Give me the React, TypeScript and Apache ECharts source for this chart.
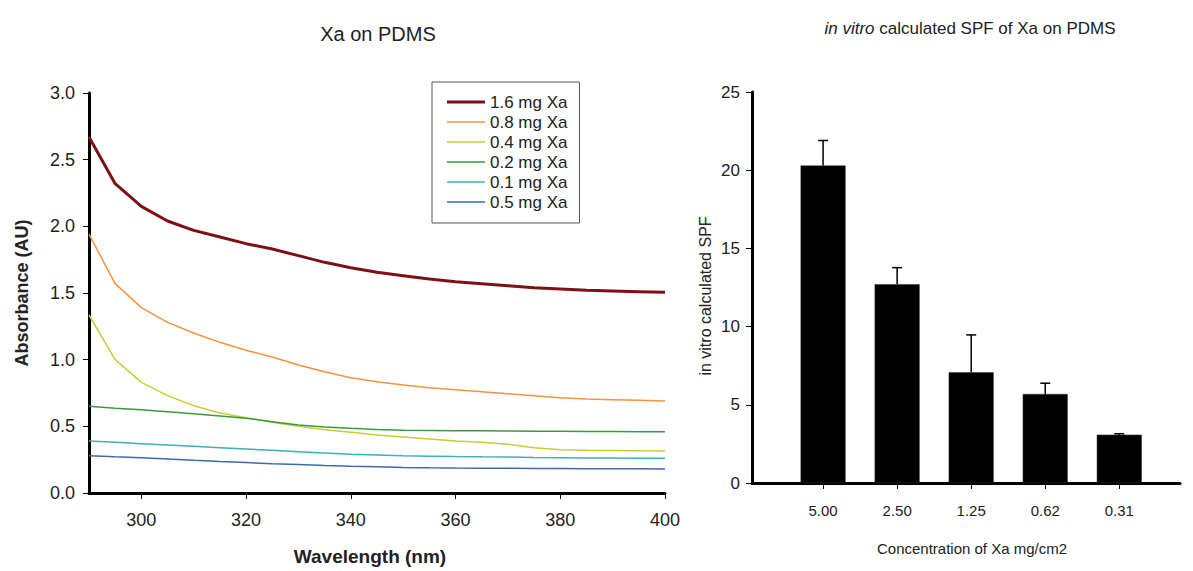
import React, { useEffect, useRef } from "react";
import * as echarts from "echarts";

const wavelengths = [290, 295, 300, 305, 310, 315, 320, 325, 330, 335, 340, 345, 350, 355, 360, 365, 370, 375, 380, 385, 390, 395, 400];
const seriesNames = ["1.6 mg Xa", "0.8 mg Xa", "0.4 mg Xa", "0.2 mg Xa", "0.1 mg Xa", "0.5 mg Xa"];
const abs16 = [2.67, 2.32, 2.15, 2.04, 1.97, 1.92, 1.87, 1.83, 1.78, 1.73, 1.69, 1.655, 1.63, 1.605, 1.585, 1.57, 1.555, 1.54, 1.53, 1.52, 1.515, 1.51, 1.505];
const abs08 = [1.94, 1.57, 1.39, 1.28, 1.2, 1.13, 1.07, 1.02, 0.96, 0.91, 0.865, 0.835, 0.81, 0.79, 0.775, 0.76, 0.745, 0.73, 0.715, 0.705, 0.7, 0.695, 0.69];
const abs04 = [1.335, 1.0, 0.83, 0.73, 0.655, 0.6, 0.565, 0.53, 0.5, 0.475, 0.455, 0.435, 0.42, 0.405, 0.39, 0.38, 0.365, 0.34, 0.325, 0.32, 0.318, 0.316, 0.315];
const abs02 = [0.65, 0.635, 0.625, 0.61, 0.595, 0.578, 0.56, 0.535, 0.51, 0.495, 0.485, 0.476, 0.471, 0.469, 0.467, 0.466, 0.465, 0.464, 0.463, 0.462, 0.461, 0.46, 0.46];
const abs01 = [0.39, 0.38, 0.37, 0.36, 0.35, 0.34, 0.33, 0.32, 0.31, 0.3, 0.29, 0.285, 0.28, 0.276, 0.273, 0.271, 0.27, 0.267, 0.265, 0.263, 0.262, 0.261, 0.26];
const abs05 = [0.28, 0.272, 0.265, 0.255, 0.245, 0.236, 0.228, 0.22, 0.213, 0.206, 0.2, 0.196, 0.192, 0.189, 0.187, 0.186, 0.185, 0.184, 0.183, 0.182, 0.182, 0.181, 0.18];
const lineColors = ["#7d1014", "#f5923e", "#c9cc35", "#3b9a3e", "#3fb0b3", "#3d6aa8"];
const lineWidths = [3, 1.5, 1.5, 1.5, 1.5, 1.5];
const wlTicks = [300, 320, 340, 360, 380, 400];

const concentrations = ["5.00", "2.50", "1.25", "0.62", "0.31"];
const spfValues = [20.3, 12.71, 7.08, 5.69, 3.09];
const spfErrors = [1.6, 1.06, 2.39, 0.69, 0.06];

const FONT = "'Liberation Sans', Arial, Helvetica, sans-serif";

export default function App() {
  const ref = useRef<HTMLDivElement>(null);
  useEffect(() => {
    if (!ref.current) return;
    const chart = echarts.init(ref.current, undefined, { renderer: "svg" });
    const absData = [abs16, abs08, abs04, abs02, abs01, abs05];
    const lineSeries = seriesNames.map((name, i) => ({
      name,
      type: "line",
      xAxisIndex: 0,
      yAxisIndex: 0,
      symbol: "none",
      data: wavelengths.map((w, j) => [w, absData[i][j]]),
      lineStyle: { color: lineColors[i], width: lineWidths[i] },
      itemStyle: { color: lineColors[i] },
    }));
    const legendData = seriesNames.map((name, i) => ({
      name,
      icon: lineWidths[i] > 2 ? "path://M0,0 L38,0 L38,3 L0,3 Z" : "path://M0,0 L38,0 L38,1.5 L0,1.5 Z",
    }));
    const idx = concentrations.map((_, i) => i);
    chart.setOption({
      animation: false,
      backgroundColor: "#fff",
      textStyle: { fontFamily: FONT },
      grid: [
        { left: 89, right: 528, top: 93, bottom: 78 },
        { left: 752, right: 13, top: 92, bottom: 88 },
      ],
      legend: {
        data: legendData,
        orient: "vertical",
        left: 432,
        top: 82,
        padding: [11, 12, 12, 15],
        itemGap: 2,
        itemWidth: 38,
        itemHeight: 14,
        borderColor: "#555",
        borderWidth: 1,
        textStyle: { fontSize: 17, lineHeight: 18, color: "#222", fontFamily: FONT },
      },
      xAxis: [
        {
          type: "value",
          gridIndex: 0,
          min: 290,
          max: 400,
          splitLine: { show: false },
          axisLine: { onZero: false, lineStyle: { color: "#000", width: 3 } },
          axisTick: { customValues: wlTicks, length: 6, lineStyle: { color: "#000", width: 1 } },
          axisLabel: { customValues: wlTicks, fontSize: 18, color: "#222", margin: 18, fontFamily: FONT },
        },
        {
          type: "value",
          gridIndex: 1,
          min: -0.96,
          max: 4.82,
          splitLine: { show: false },
          axisLine: { onZero: false, lineStyle: { color: "#000", width: 3 } },
          axisTick: { customValues: idx, length: 6, lineStyle: { color: "#000", width: 1 } },
          axisLabel: {
            customValues: idx,
            fontSize: 15,
            color: "#222",
            margin: 20,
            fontFamily: FONT,
            formatter: (v: number) => concentrations[Math.round(v)] ?? "",
          },
        },
      ],
      yAxis: [
        {
          type: "value",
          gridIndex: 0,
          min: 0,
          max: 3,
          interval: 0.5,
          splitLine: { show: false },
          axisLine: { show: true, onZero: false, lineStyle: { color: "#000", width: 3 } },
          axisTick: { show: true, length: 6, lineStyle: { color: "#000", width: 1 } },
          axisLabel: { fontSize: 18, color: "#222", margin: 14, fontFamily: FONT, formatter: (v: number) => v.toFixed(1) },
        },
        {
          type: "value",
          gridIndex: 1,
          min: 0,
          max: 25,
          interval: 5,
          splitLine: { show: false },
          axisLine: { show: true, onZero: false, lineStyle: { color: "#000", width: 3 } },
          axisTick: { show: true, length: 6, lineStyle: { color: "#000", width: 1 } },
          axisLabel: { fontSize: 17, color: "#222", margin: 12, fontFamily: FONT },
        },
      ],
      series: [
        ...lineSeries,
        {
          type: "bar",
          xAxisIndex: 1,
          yAxisIndex: 1,
          barWidth: 45,
          data: spfValues.map((v, i) => [i, v]),
          itemStyle: { color: "#000", borderColor: "#333", borderWidth: 0.5 },
        },
        {
          type: "custom",
          xAxisIndex: 1,
          yAxisIndex: 1,
          z: 5,
          encode: { x: 0, y: [1, 2] },
          data: spfValues.map((v, i) => [i, v, v + spfErrors[i]]),
          renderItem: (params: any, api: any) => {
            const i = params.dataIndex;
            const base = spfValues[i];
            const top = spfValues[i] + spfErrors[i];
            const p1 = api.coord([i, base]);
            const p2 = api.coord([i, top]);
            const st = { stroke: "#000", lineWidth: 1.5, fill: "none" };
            return {
              type: "group",
              children: [
                { type: "line", shape: { x1: p1[0], y1: p1[1], x2: p2[0], y2: p2[1] }, style: st },
                { type: "line", shape: { x1: p2[0] - 5, y1: p2[1], x2: p2[0] + 5, y2: p2[1] }, style: st },
              ],
            };
          },
        },
      ],
      graphic: [
        {
          type: "text",
          x: 378,
          y: 34,
          style: { text: "Xa on PDMS", font: `20px ${FONT}`, fill: "#222", align: "center", verticalAlign: "middle" },
        },
        {
          type: "text",
          x: 970,
          y: 28,
          style: {
            text: "{i|in vitro} calculated SPF of Xa on PDMS",
            font: `17px ${FONT}`,
            fill: "#222",
            align: "center",
            verticalAlign: "middle",
            rich: { i: { fontStyle: "italic", fontSize: 17, fontFamily: FONT, fill: "#222" } },
          },
        },
        {
          type: "text",
          x: 22,
          y: 293,
          rotation: Math.PI / 2,
          style: { text: "Absorbance (AU)", font: `bold 18px ${FONT}`, fill: "#222", align: "center", verticalAlign: "middle" },
        },
        {
          type: "text",
          x: 370,
          y: 556,
          style: { text: "Wavelength (nm)", font: `bold 19px ${FONT}`, fill: "#222", align: "center", verticalAlign: "middle" },
        },
        {
          type: "text",
          x: 705,
          y: 296,
          rotation: Math.PI / 2,
          style: { text: "in vitro calculated SPF", font: `16px ${FONT}`, fill: "#222", align: "center", verticalAlign: "middle" },
        },
        {
          type: "text",
          x: 972,
          y: 548,
          style: { text: "Concentration of Xa mg/cm2", font: `15px ${FONT}`, fill: "#222", align: "center", verticalAlign: "middle" },
        },
      ],
    });
    return () => chart.dispose();
  }, []);
  return <div ref={ref} style={{ width: 1193, height: 571, position: "absolute", left: 0, top: 0 }} />;
}
